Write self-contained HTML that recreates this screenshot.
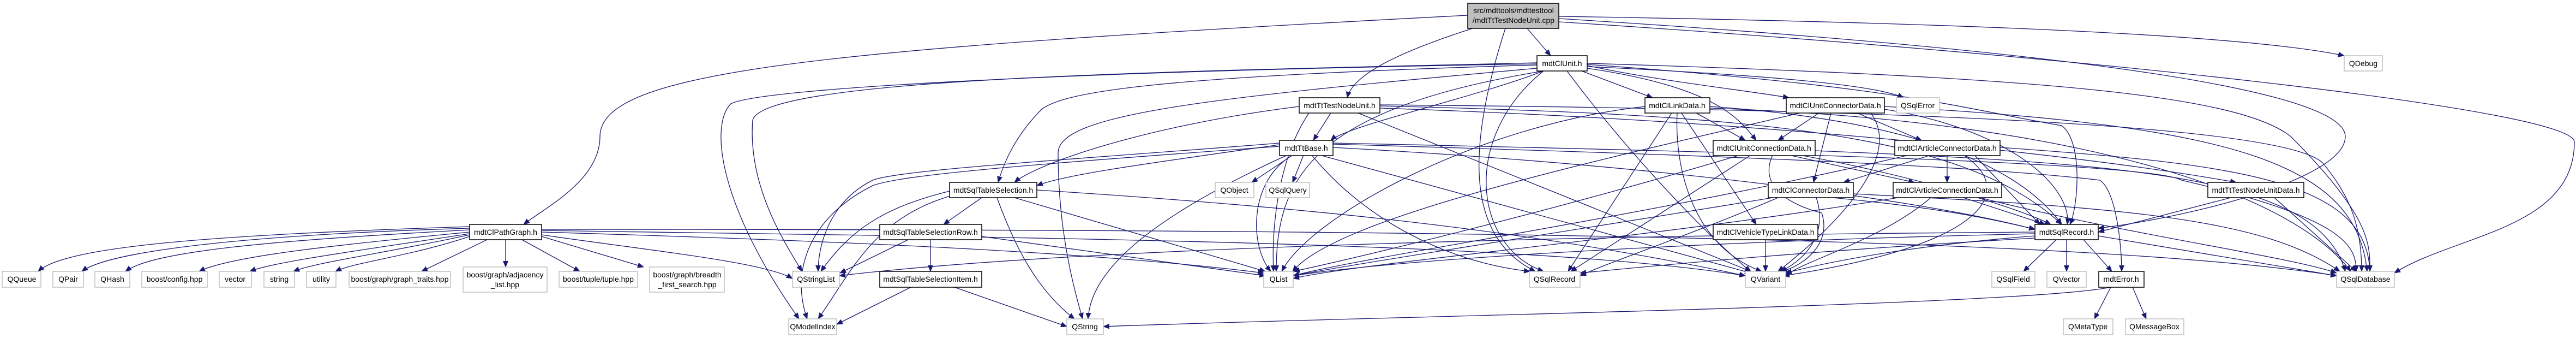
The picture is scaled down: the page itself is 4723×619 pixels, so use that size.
<!DOCTYPE html>
<html><head><meta charset="utf-8"><style>
html,body{margin:0;padding:0;background:#fff;width:4723px;height:619px;overflow:hidden}
svg{display:block}
text{font-family:"Liberation Sans",sans-serif;font-size:14px;fill:#000;text-anchor:middle}
.e{fill:none;stroke:#191970;stroke-width:1.3}
.n{fill:#fff;stroke:#000;stroke-width:1.5}
.l{fill:#fff;stroke:#bfbfbf;stroke-width:1.5}
</style></head><body>
<svg width="4723" height="619" viewBox="0 0 4723 619">
<defs><marker id="a" markerWidth="12" markerHeight="10" refX="11" refY="5" orient="auto" markerUnits="userSpaceOnUse"><path d="M0,0 L12,5 L0,10 z" fill="#191970"/></marker></defs>
<g class="e" marker-end="url(#a)">
<path d="M2691 28 C1500 90 1100 130 1100 250 C1100 330 1000 380 960 411"/>
<path d="M2700 52 C2550 100 2480 140 2470 179"/>
<path d="M2800 52 L2843 102"/>
<path d="M2760 52 C2680 300 2700 440 2815 497"/>
<path d="M2858 30 C3500 40 4100 60 4298 102"/>
<path d="M2858 34 C3600 80 4300 150 4300 250 C4300 330 4000 400 3847 418"/>
<path d="M2858 40 C3800 100 4720 200 4720 260 C4720 420 4500 430 4390 500"/>
<path d="M2830 130 C2700 180 2470 230 2440 257"/>
<path d="M2830 130 C2680 250 2700 450 2830 497"/>
<path d="M2873 130 C3000 300 3150 450 3210 497"/>
<path d="M2900 130 L3030 179"/>
<path d="M2910 120 C3050 150 3200 165 3280 179"/>
<path d="M2910 122 C3300 140 3450 160 3490 179"/>
<path d="M2910 125 C3150 160 3190 220 3220 257"/>
<path d="M2818 115 C2200 130 1400 140 1380 220 C1370 350 1450 460 1470 497"/>
<path d="M2818 117 C2000 130 1400 160 1340 190 C1300 230 1320 380 1465 584"/>
<path d="M2818 119 C2100 140 1950 170 1910 200 C1860 250 1840 300 1830 334"/>
<path d="M2830 130 C2400 200 2340 330 2340 497"/>
<path d="M2818 125 C2200 180 1940 210 1940 280 C1940 400 1960 500 1985 584"/>
<path d="M2910 118 C3500 160 3600 200 3780 230 C3820 260 3810 380 3795 411"/>
<path d="M2910 116 C3700 140 4100 170 4200 250 C4350 400 4345 450 4345 497"/>
<path d="M2440 207 L2408 257"/>
<path d="M2382 195 C2100 230 1900 300 1860 334"/>
<path d="M2490 207 L3210 497"/>
<path d="M2530 194 C3200 210 3600 240 3780 411"/>
<path d="M2530 198 C3200 220 3800 280 4100 334"/>
<path d="M2400 207 C2350 280 2330 400 2335 497"/>
<path d="M2530 192 C3500 200 4200 230 4260 300 C4300 350 4330 400 4330 497"/>
<path d="M2346 265 C2100 300 1950 320 1901 340"/>
<path d="M2346 262 C2000 290 1650 310 1600 330 C1520 370 1500 450 1500 497"/>
<path d="M2346 268 C1900 300 1650 320 1600 340 C1480 400 1450 500 1480 584"/>
<path d="M2370 284 C2290 330 2290 450 2330 497"/>
<path d="M2360 284 C2150 380 2000 480 1995 584"/>
<path d="M2370 284 L2295 334"/>
<path d="M2390 284 L2370 334"/>
<path d="M2405 284 C2500 400 2650 480 2805 497"/>
<path d="M2420 284 L3210 500"/>
<path d="M2444 270 C3000 300 3500 360 3731 420"/>
<path d="M2444 264 C3000 280 3600 300 3850 330 C3880 350 3890 450 3890 497"/>
<path d="M2444 262 C3300 280 3950 300 4000 330 C4300 400 4320 450 4320 497"/>
<path d="M1800 362 L1730 411"/>
<path d="M1741 350 C1620 380 1560 420 1505 497"/>
<path d="M1745 358 C1600 400 1560 500 1500 584"/>
<path d="M1828 362 C1860 450 1900 530 1970 584"/>
<path d="M1860 362 L2320 497"/>
<path d="M1901 348 C2400 380 2800 420 3200 505"/>
<path d="M1706 439 L1706 497"/>
<path d="M1665 439 L1540 500"/>
<path d="M1800 433 L2320 505"/>
<path d="M1670 526 L1534 594"/>
<path d="M1750 526 L1956 598"/>
<path d="M861 415 C400 430 120 450 70 497"/>
<path d="M861 418 C450 430 200 460 150 497"/>
<path d="M861 421 C500 440 280 460 230 497"/>
<path d="M861 425 C600 450 420 470 365 497"/>
<path d="M861 428 C650 460 500 480 458 497"/>
<path d="M861 430 C700 465 580 480 538 497"/>
<path d="M861 433 C750 470 650 480 615 497"/>
<path d="M893 439 L773 497"/>
<path d="M927 439 L927 489"/>
<path d="M957 439 L1063 497"/>
<path d="M993 433 L1180 489"/>
<path d="M993 430 C1200 460 1400 480 1453 510"/>
<path d="M993 425 C1500 440 2000 460 2317 500"/>
<path d="M993 422 C1800 435 2800 440 3200 505"/>
<path d="M993 420 C2500 420 3800 430 4284 505"/>
<path d="M3110 207 L3200 257"/>
<path d="M3065 207 L2875 497"/>
<path d="M3075 207 C3070 300 3100 450 3230 497"/>
<path d="M3083 207 L3220 411"/>
<path d="M3016 195 C2700 230 2400 400 2350 497"/>
<path d="M3135 195 C3500 220 3700 300 3780 411"/>
<path d="M3135 198 C3800 220 4200 350 4310 497"/>
<path d="M3335 207 L3260 257"/>
<path d="M3357 207 L3325 334"/>
<path d="M3405 207 L3523 257"/>
<path d="M3300 207 C2900 300 2450 400 2370 497"/>
<path d="M3455 200 C3700 240 3800 350 3790 411"/>
<path d="M3455 195 C4100 230 4320 300 4340 497"/>
<path d="M3430 207 C3500 300 3320 450 3260 497"/>
<path d="M3280 284 L3510 334"/>
<path d="M3190 284 C2800 400 2450 480 2372 497"/>
<path d="M3210 284 L2880 497"/>
<path d="M3250 284 C3220 350 3300 380 3340 390 C3360 450 3300 490 3265 497"/>
<path d="M3300 284 C3500 320 3700 380 3760 411"/>
<path d="M3328 276 C3900 300 4250 320 4300 497"/>
<path d="M3540 284 L3380 334"/>
<path d="M3570 284 L3570 334"/>
<path d="M3500 284 C3000 400 2500 470 2371 505"/>
<path d="M3620 284 L3740 411"/>
<path d="M3667 270 C4100 300 4340 330 4345 497"/>
<path d="M3600 284 C3700 350 3640 450 3270 505"/>
<path d="M3330 362 C3350 420 3320 470 3265 497"/>
<path d="M3250 362 C2900 420 2500 480 2371 505"/>
<path d="M3360 362 C3550 380 3650 400 3731 420"/>
<path d="M3398 355 C3900 380 4150 400 4290 497"/>
<path d="M3260 362 C3100 430 2950 480 2897 505"/>
<path d="M3540 362 C3450 440 3300 480 3274 505"/>
<path d="M3480 362 C3000 440 2500 480 2371 510"/>
<path d="M3600 362 L3750 411"/>
<path d="M3630 362 C3900 430 4200 470 4284 500"/>
<path d="M3237 439 L3237 497"/>
<path d="M4090 362 L3847 425"/>
<path d="M4170 362 L4320 497"/>
<path d="M3770 439 L3710 497"/>
<path d="M3789 439 L3789 497"/>
<path d="M3820 439 L3872 497"/>
<path d="M3847 432 L4284 505"/>
<path d="M3731 428 C3200 440 2600 470 2371 505"/>
<path d="M3731 425 C3000 430 2000 450 1539 505"/>
<path d="M3731 432 C3500 450 3350 480 3274 500"/>
<path d="M3731 436 C3300 460 3000 490 2897 500"/>
<path d="M3870 526 L3840 584"/>
<path d="M3910 526 L3935 584"/>
<path d="M3870 526 C3700 560 2500 580 2023 598"/>
</g>
<!-- nodes -->
<rect x="2691" y="6" width="167" height="46" fill="#bfbfbf" stroke="#000" stroke-width="1.5"/>
<text x="2775" y="24">src/mdttools/mdttesttool</text><text x="2775" y="42">/mdtTtTestNodeUnit.cpp</text>
<g class="n">
<rect x="861" y="411" width="132" height="28"/><rect x="2382" y="179" width="148" height="28"/>
<rect x="2818" y="102" width="92" height="28"/><rect x="2346" y="257" width="98" height="28"/>
<rect x="1741" y="334" width="160" height="28"/><rect x="1613" y="411" width="187" height="28"/>
<rect x="1613" y="497" width="187" height="29"/><rect x="3016" y="179" width="119" height="28"/>
<rect x="3275" y="179" width="180" height="28"/><rect x="3141" y="257" width="187" height="28"/>
<rect x="3474" y="257" width="193" height="28"/><rect x="3242" y="334" width="156" height="28"/>
<rect x="3471" y="334" width="199" height="28"/><rect x="3141" y="411" width="192" height="28"/>
<rect x="4048" y="334" width="176" height="28"/><rect x="3731" y="411" width="116" height="28"/>
<rect x="3848" y="497" width="83" height="29"/>
</g>
<g class="l">
<rect x="3477" y="179" width="79" height="28"/>
<rect x="4" y="497" width="71" height="29"/><rect x="97" y="497" width="56" height="29"/>
<rect x="174" y="497" width="64" height="29"/><rect x="260" y="497" width="120" height="29"/>
<rect x="402" y="497" width="59" height="29"/><rect x="484" y="497" width="56" height="29"/>
<rect x="562" y="497" width="54" height="29"/><rect x="640" y="497" width="186" height="29"/>
<rect x="849" y="489" width="154" height="46"/><rect x="1025" y="497" width="144" height="29"/>
<rect x="1191" y="489" width="137" height="46"/><rect x="1453" y="497" width="86" height="29"/>
<rect x="2317" y="497" width="54" height="29"/><rect x="2804" y="497" width="93" height="29"/>
<rect x="3200" y="497" width="74" height="29"/><rect x="3652" y="497" width="79" height="29"/>
<rect x="3753" y="497" width="72" height="29"/><rect x="4284" y="497" width="106" height="29"/>
<rect x="1446" y="584" width="88" height="29"/><rect x="1956" y="584" width="67" height="29"/>
<rect x="3783" y="584" width="91" height="29"/><rect x="3897" y="584" width="107" height="29"/>
<rect x="2228" y="334" width="71" height="28"/><rect x="2321" y="334" width="80" height="28"/>
<rect x="4298" y="102" width="70" height="28"/>
</g>
<text x="927" y="430">mdtClPathGraph.h</text>
<text x="2456" y="198">mdtTtTestNodeUnit.h</text>
<text x="2864" y="121">mdtClUnit.h</text>
<text x="2395" y="276">mdtTtBase.h</text>
<text x="1821" y="353">mdtSqlTableSelection.h</text>
<text x="1706" y="430">mdtSqlTableSelectionRow.h</text>
<text x="1706" y="516">mdtSqlTableSelectionItem.h</text>
<text x="3075" y="198">mdtClLinkData.h</text>
<text x="3365" y="198">mdtClUnitConnectorData.h</text>
<text x="3516" y="198">QSqlError</text>
<text x="3234" y="276">mdtClUnitConnectionData.h</text>
<text x="3570" y="276">mdtClArticleConnectorData.h</text>
<text x="3320" y="353">mdtClConnectorData.h</text>
<text x="3570" y="353">mdtClArticleConnectionData.h</text>
<text x="3237" y="430">mdtClVehicleTypeLinkData.h</text>
<text x="4136" y="353">mdtTtTestNodeUnitData.h</text>
<text x="3789" y="430">mdtSqlRecord.h</text>
<text x="3889" y="516">mdtError.h</text>
<text x="40" y="516">QQueue</text><text x="125" y="516">QPair</text><text x="206" y="516">QHash</text>
<text x="320" y="516">boost/config.hpp</text><text x="431" y="516">vector</text><text x="512" y="516">string</text>
<text x="589" y="516">utility</text><text x="733" y="516">boost/graph/graph_traits.hpp</text>
<text x="926" y="508">boost/graph/adjacency</text><text x="926" y="526">_list.hpp</text>
<text x="1097" y="516">boost/tuple/tuple.hpp</text>
<text x="1260" y="508">boost/graph/breadth</text><text x="1260" y="526">_first_search.hpp</text>
<text x="1496" y="516">QStringList</text><text x="2344" y="516">QList</text>
<text x="2850" y="516">QSqlRecord</text><text x="3237" y="516">QVariant</text>
<text x="3691" y="516">QSqlField</text><text x="3789" y="516">QVector</text>
<text x="4337" y="516">QSqlDatabase</text>
<text x="1490" y="603">QModelIndex</text><text x="1989" y="603">QString</text>
<text x="3828" y="603">QMetaType</text><text x="3950" y="603">QMessageBox</text>
<text x="2263" y="353">QObject</text><text x="2361" y="353">QSqlQuery</text>
<text x="4333" y="121">QDebug</text>
</svg>
</body></html>
